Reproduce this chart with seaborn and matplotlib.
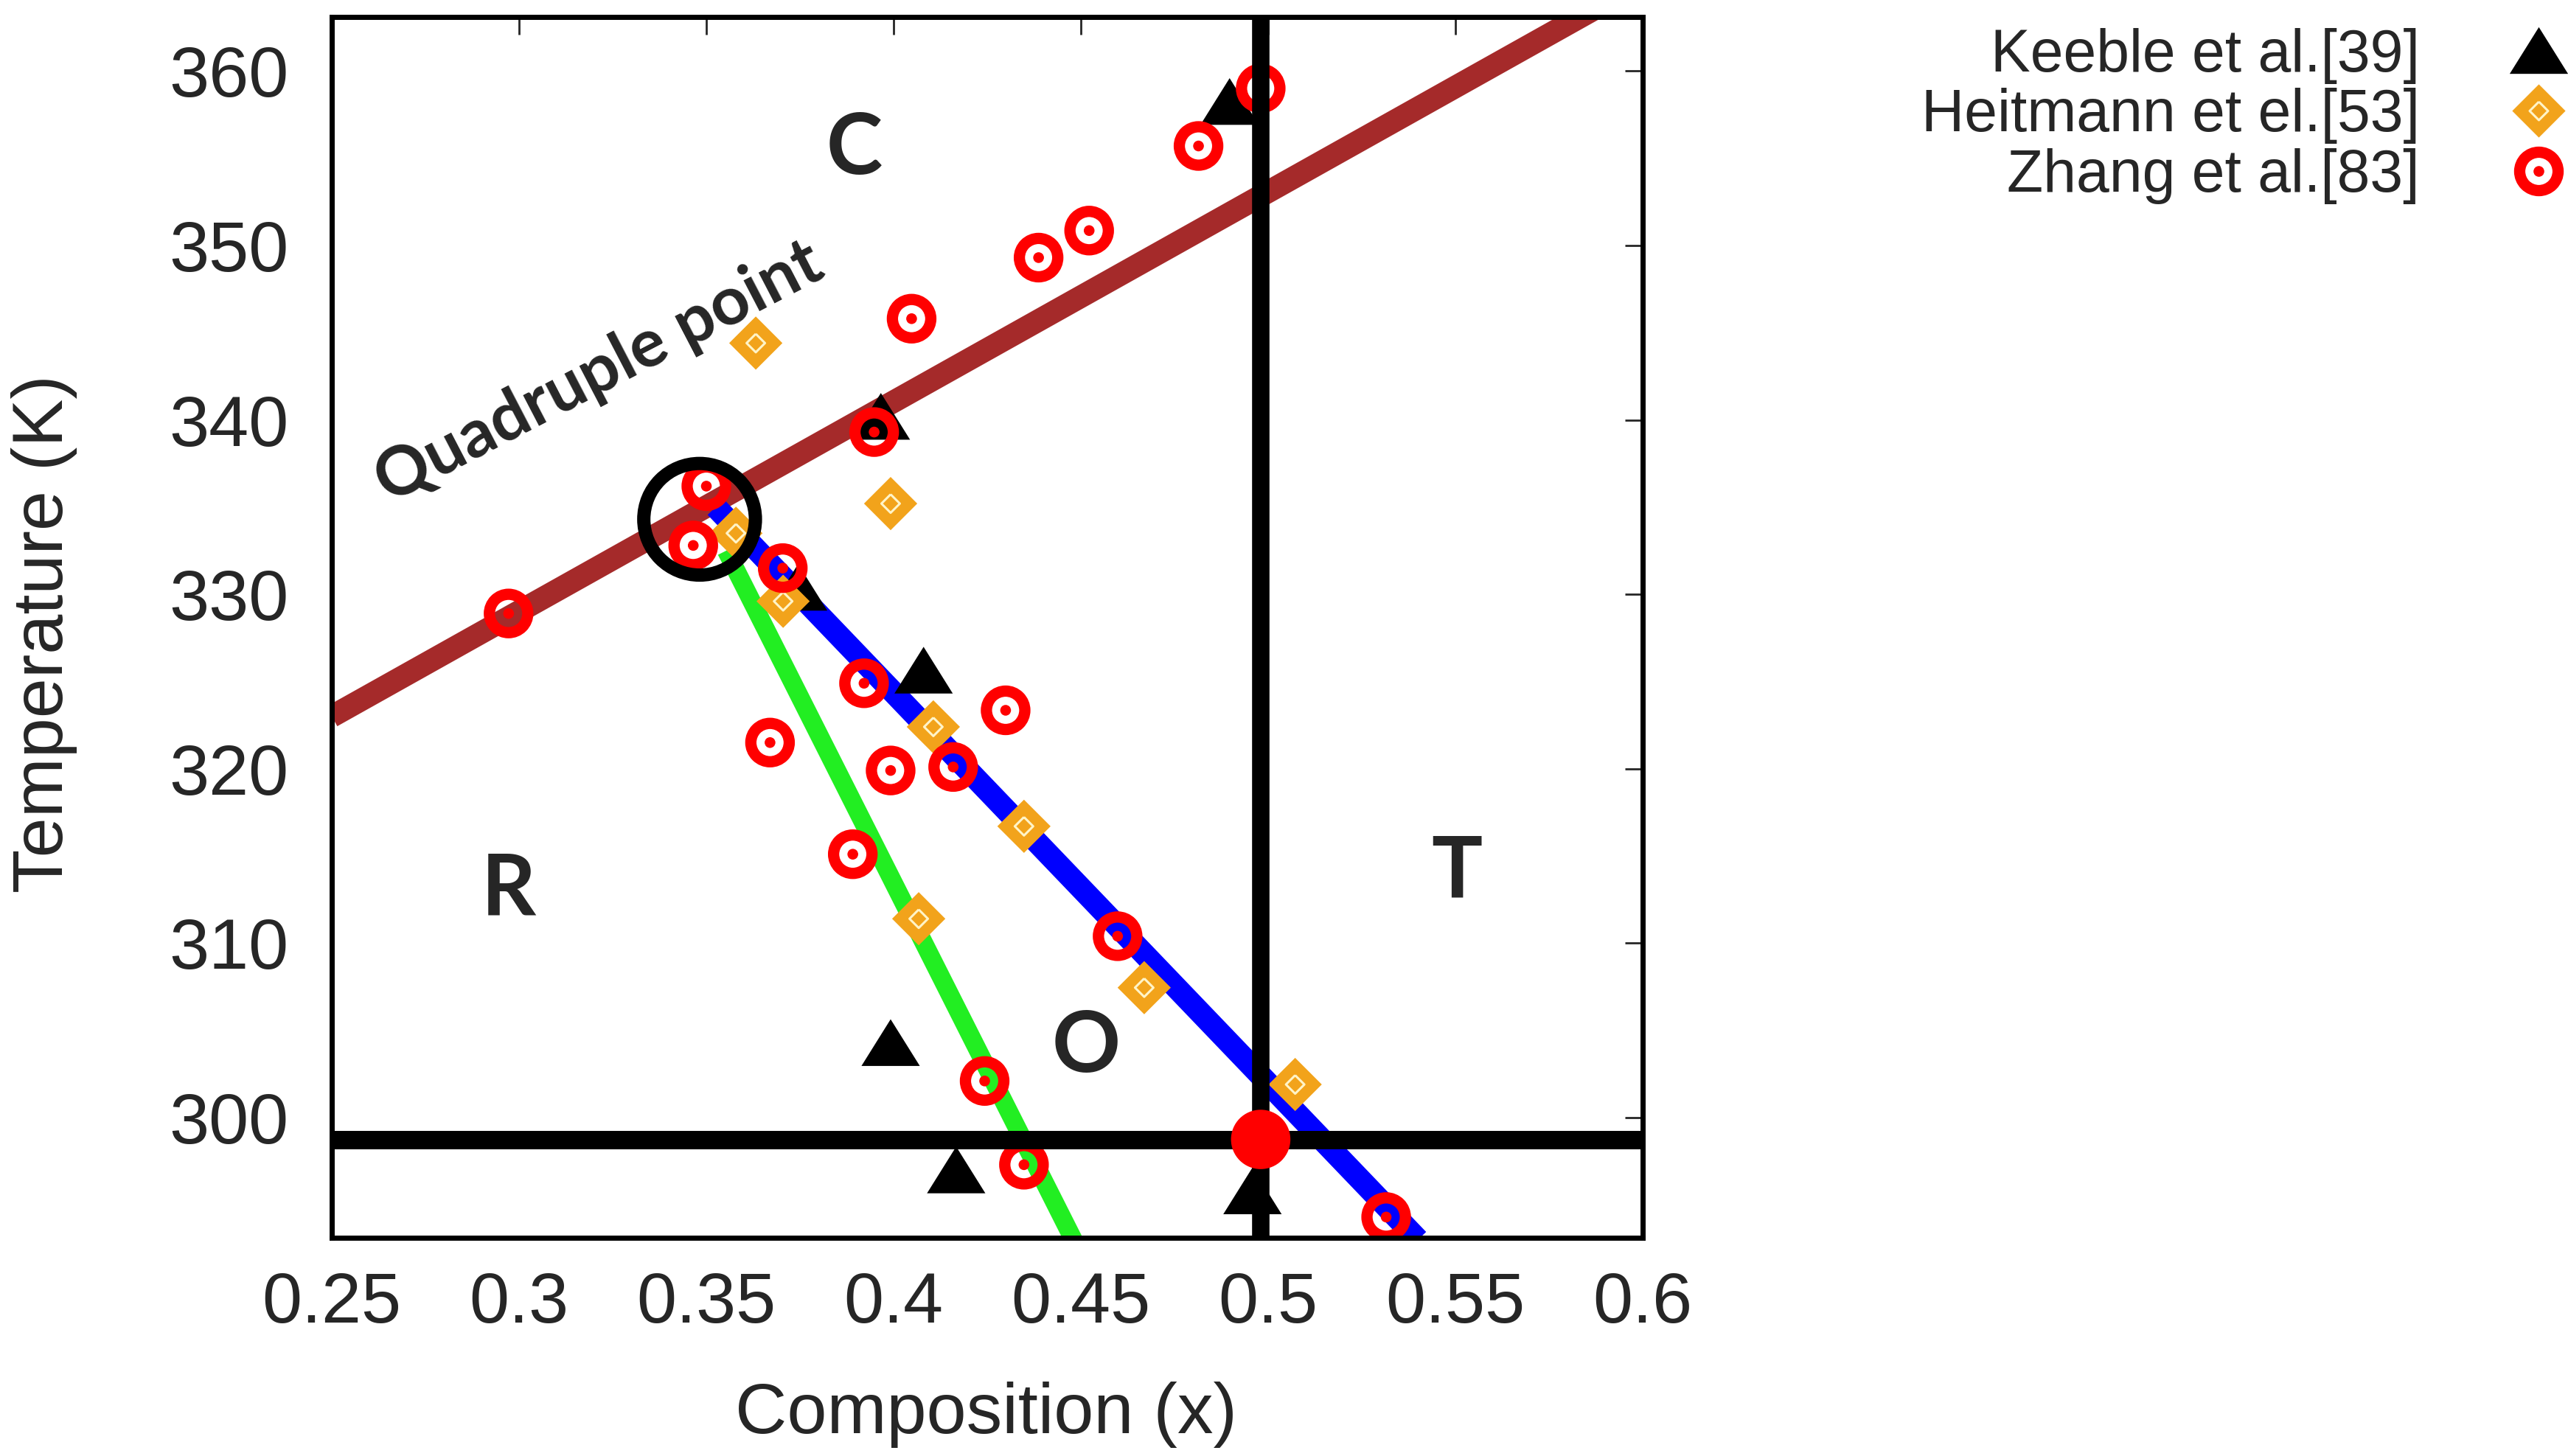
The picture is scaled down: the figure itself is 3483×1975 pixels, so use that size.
import numpy as np
import pandas as pd
import seaborn as sns
import matplotlib.pyplot as plt
from matplotlib.lines import Line2D
from matplotlib.markers import MarkerStyle

# =============================================================================
# données (composition x, température en K)
# =============================================================================
keeble_x = [0.4897, 0.3966, 0.3745, 0.4080, 0.3992, 0.4167, 0.4958]
keeble_t = [358.25, 340.2, 330.4, 325.65, 304.3, 297.0, 295.8]

heitmann_x = [0.3632, 0.3992, 0.3579, 0.3705, 0.4106, 0.4348, 0.4067, 0.4669, 0.5072]
heitmann_t = [344.4, 335.2, 333.5, 329.6, 322.4, 316.7, 311.4, 307.45, 301.9]

zhang_x = [0.4980, 0.4814, 0.4522, 0.4387, 0.4048, 0.3948, 0.3500, 0.3465, 0.3704,
           0.2972, 0.3921, 0.4299, 0.3670, 0.3992, 0.4159, 0.3891, 0.4598, 0.4243,
           0.4348, 0.5315]
zhang_t = [359.0, 355.7, 350.85, 349.3, 345.8, 339.3, 336.2, 332.8, 331.5,
           328.9, 324.9, 323.35, 321.5, 319.9, 320.1, 315.1, 310.4, 302.1,
           297.3, 294.3]

# frontières de phase (extrémités des segments)
ct_x = [0.25, 0.59]          # ligne brune C / (R, O, T)
ct_t = [323.0, 363.9]
ot_x = [0.3525, 0.5400]      # ligne bleue O / T
ot_t = [335.0, 293.0]
ro_x = [0.3553, 0.4480]      # ligne verte R / O
ro_t = [332.5, 293.0]

mpb_x = 0.498                # ligne verticale
room_t = 298.75              # ligne horizontale
quad_x, quad_t = 0.3482, 334.3

phase_labels = ['C', 'R', 'O', 'T']
phase_x = [0.3896, 0.2972, 0.4515, 0.5504]
phase_t = [355.5, 313.0, 304.0, 314.0]

xticks = [0.25, 0.3, 0.35, 0.4, 0.45, 0.5, 0.55, 0.6]
xtick_labels = ['0.25', '0.3', '0.35', '0.4', '0.45', '0.5', '0.55', '0.6']
yticks = [300, 310, 320, 330, 340, 350, 360]

legend_labels = ['Keeble et al.[39]', 'Heitmann et el.[53]', 'Zhang et al.[83]']

ORANGE = '#f2a31b'
RED = '#ff0000'

sns.set_style("white")
plt.rcParams['font.family'] = ['Liberation Sans', 'DejaVu Sans']

fig = plt.figure(figsize=(34.83, 19.75), dpi=100)
ax = fig.add_axes([0.1292, 0.1501, 0.5105, 0.8383])

# lignes de transition
sns.lineplot(x=ct_x, y=ct_t, sort=False, color='#a52a2a', linewidth=22,
             solid_capstyle='butt', ax=ax, zorder=2)
sns.lineplot(x=ro_x, y=ro_t, sort=False, color='#22ee22', linewidth=18,
             solid_capstyle='butt', ax=ax, zorder=2)
sns.lineplot(x=ot_x, y=ot_t, sort=False, color='#0000ff', linewidth=22,
             solid_capstyle='butt', ax=ax, zorder=2)

# marqueurs (formes normalisées : largeur = taille)
tri = MarkerStyle([(0, 0.8), (-1, -0.8), (1, -0.8), (0, 0.8)])
dia = MarkerStyle([(0, 1), (1, 0), (0, -1), (-1, 0), (0, 1)])

sns.scatterplot(x=keeble_x, y=keeble_t, marker=tri, s=57 ** 2, color='black',
                edgecolor='none', linewidth=0, ax=ax, zorder=3)
sns.scatterplot(x=heitmann_x, y=heitmann_t, marker=dia, s=52 ** 2, color=ORANGE,
                edgecolor='none', linewidth=0, ax=ax, zorder=4)
sns.scatterplot(x=heitmann_x, y=heitmann_t, marker=dia, s=18 ** 2, color='#fff4c8',
                facecolor='none', edgecolor='#fff4c8', linewidth=2.2, ax=ax, zorder=4)
sns.scatterplot(x=zhang_x, y=zhang_t, marker='o', s=37.5 ** 2, color=RED,
                facecolor='none', edgecolor=RED, linewidth=11, ax=ax, zorder=5)
sns.scatterplot(x=zhang_x, y=zhang_t, marker='o', s=10.5 ** 2, color=RED,
                edgecolor='none', linewidth=0, ax=ax, zorder=5)

# lignes noires + point rouge + cercle du point quadruple
ax.axvline(mpb_x, color='black', linewidth=17, zorder=6)
ax.axhline(room_t, color='black', linewidth=18, zorder=6)
sns.scatterplot(x=[mpb_x], y=[room_t], marker='o', s=58 ** 2, color=RED,
                edgecolor='none', linewidth=0, ax=ax, zorder=7)
sns.scatterplot(x=[quad_x], y=[quad_t], marker='o', s=109 ** 2, color='black',
                facecolor='none', edgecolor='black', linewidth=13, ax=ax, zorder=7)

# étiquettes des phases
for lab, px, pt in zip(phase_labels, phase_x, phase_t):
    ax.text(px, pt, lab, fontsize=83, fontweight='bold', family=['Lato', 'DejaVu Sans'],
            ha='center', va='center', zorder=8)
ax.text(0.3215, 342.7, 'Quadruple point', fontsize=66, fontweight='bold',
        family=['Lato', 'DejaVu Sans'], rotation=27.5, rotation_mode='anchor',
        ha='center', va='center', zorder=8)

# axes
ax.set_xlim(0.25, 0.6)
ax.set_ylim(293.13, 363.1)
ax.set_xticks(xticks)
ax.set_xticklabels(xtick_labels)
ax.set_yticks(yticks)
ax.tick_params(direction='in', top=True, right=True, length=17, width=2,
               labelsize=70)
ax.tick_params(axis='x', pad=33)
ax.tick_params(axis='y', pad=42)
for sp in ax.spines.values():
    sp.set_linewidth(5)
    sp.set_color('black')
    sp.set_zorder(9)

ax.set_xlabel('Composition (x)', fontsize=70, va='center')
ax.set_ylabel('Temperature (K)', fontsize=70, va='center')
ax.xaxis.set_label_coords(0.499, -0.1455)
ax.yaxis.set_label_coords(-0.2192, 0.4946)

# légende
handles = [
    Line2D([], [], ls='none', marker=tri, ms=57, mfc='black', mec='none'),
    (Line2D([], [], ls='none', marker=dia, ms=52, mfc=ORANGE, mec='none'),
     Line2D([], [], ls='none', marker=dia, ms=18, mfc='none', mec='#fff4c8', mew=2.2)),
    (Line2D([], [], ls='none', marker='o', ms=37.5, mfc='none', mec=RED, mew=11),
     Line2D([], [], ls='none', marker='o', ms=10.5, mfc=RED, mec='none')),
]
fig.legend(handles, legend_labels, loc='upper right', bbox_to_anchor=(1.0, 0.981),
           markerfirst=False, frameon=False, fontsize=58, handlelength=1.0,
           handletextpad=1.5, labelspacing=0.07, borderpad=0, borderaxespad=0)

fig.savefig('out.png', dpi=100)
